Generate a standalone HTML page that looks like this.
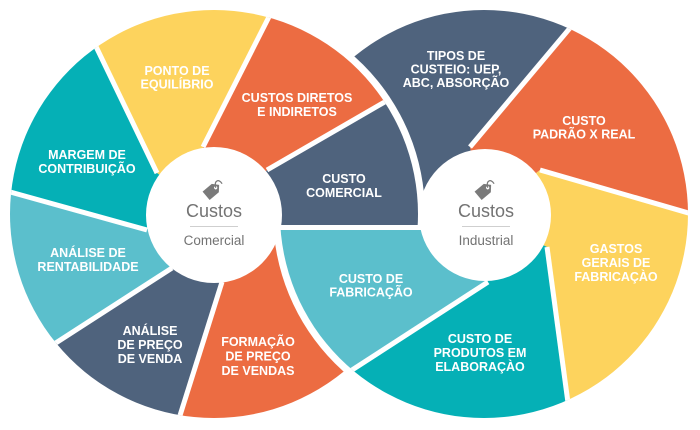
<!DOCTYPE html>
<html>
<head>
<meta charset="utf-8">
<style>
  html,body{margin:0;padding:0;background:#ffffff;width:700px;height:430px;overflow:hidden;}
  svg{display:block;overflow:hidden;}
  .lbl{font-family:"Liberation Sans",Arial,sans-serif;font-weight:bold;font-size:12.5px;fill:#ffffff;text-anchor:middle;}
  .ct{font-family:"Liberation Sans",Arial,sans-serif;fill:#737373;text-anchor:middle;}
</style>
</head>
<body>
<svg width="700" height="430" viewBox="0 0 700 430" xmlns="http://www.w3.org/2000/svg">
  <defs>
    <clipPath id="clipL"><circle cx="214" cy="214" r="204"/></clipPath>
    <clipPath id="clipR"><circle cx="484" cy="214" r="204"/></clipPath>
    <clipPath id="clipTop"><rect x="0" y="0" width="700" height="227.5"/></clipPath>
  </defs>

  <!-- ===== STEP 1: LEFT CIRCLE FULL ===== -->
  <g>
    <g clip-path="url(#clipL)">
      <polygon fill="#4f637d" points="214,214 214,227.5 700,227.5 700,0 561,0 267,170"/>
      <polygon fill="#ec6c42" points="214,214 267,170 561,0 277,0 203,147"/>
      <polygon fill="#fdd35d" points="214,214 203,147 277,0 73,0 157,173"/>
      <polygon fill="#05b0b6" points="214,214 157,173 73,0 0,0 0,189 147,230"/>
      <polygon fill="#5bbfcc" points="214,214 147,230 0,189 0,379 172,268"/>
      <polygon fill="#4f637d" points="214,214 172,268 0,379 0,430 175,430 222,282"/>
      <polygon fill="#ec6c42" points="214,214 222,282 175,430 700,430 700,227.5 214,227.5"/>
      <g stroke="#ffffff" stroke-width="5">
        <line x1="214" y1="227.5" x2="690" y2="227.5"/>
        <line x1="267" y1="170" x2="556" y2="3"/>
        <line x1="203" y1="147" x2="276" y2="3"/>
        <line x1="157" y1="173" x2="75" y2="3"/>
        <line x1="147" y1="230" x2="3" y2="190"/>
        <line x1="172" y1="268" x2="3" y2="377"/>
        <line x1="222" y1="282" x2="177" y2="425"/>
      </g>
    </g>
    <circle cx="214" cy="215" r="68" fill="#ffffff"/>
  </g>

  <!-- ===== STEP 2: RIGHT CIRCLE FULL ===== -->
  <g>
    <circle cx="484" cy="214" r="211" fill="#ffffff"/>
    <g clip-path="url(#clipR)">
      <polygon fill="#4f637d" points="484,214 484,227.5 0,227.5 0,0 593,0 470,147"/>
      <polygon fill="#ec6c42" points="484,214 470,147 593,0 700,0 700,216.5 540,170"/>
      <polygon fill="#fdd35d" points="484,214 540,170 700,216.5 700,430 572,430 547,247"/>
      <polygon fill="#05b0b6" points="484,214 547,247 572,430 259,430 488,282"/>
      <polygon fill="#5bbfcc" points="484,214 488,282 259,430 0,430 0,227.5 484,227.5"/>
      <g stroke="#ffffff" stroke-width="5">
        <line x1="484" y1="227.5" x2="10" y2="227.5"/>
        <line x1="470" y1="147" x2="591" y2="3"/>
        <line x1="540" y1="170" x2="697" y2="215.5"/>
        <line x1="547" y1="247" x2="571" y2="425"/>
        <line x1="488" y1="282" x2="267" y2="425"/>
      </g>
    </g>
    <circle cx="485" cy="215" r="66" fill="#ffffff"/>
  </g>

  <!-- ===== STEP 3: LEFT TOP REDRAW ===== -->
  <g clip-path="url(#clipTop)">
    <circle cx="214" cy="214" r="211" fill="#ffffff"/>
    <g clip-path="url(#clipL)">
      <polygon fill="#4f637d" points="214,214 214,227.5 700,227.5 700,0 561,0 267,170"/>
      <polygon fill="#ec6c42" points="214,214 267,170 561,0 277,0 203,147"/>
      <polygon fill="#fdd35d" points="214,214 203,147 277,0 73,0 157,173"/>
      <polygon fill="#05b0b6" points="214,214 157,173 73,0 0,0 0,189 147,230"/>
      <polygon fill="#5bbfcc" points="214,214 147,230 0,189 0,379 172,268"/>
      <g stroke="#ffffff" stroke-width="5">
        <line x1="214" y1="227.5" x2="690" y2="227.5"/>
        <line x1="267" y1="170" x2="556" y2="3"/>
        <line x1="203" y1="147" x2="276" y2="3"/>
        <line x1="157" y1="173" x2="75" y2="3"/>
        <line x1="147" y1="230" x2="3" y2="190"/>
      </g>
    </g>
    <circle cx="214" cy="215" r="68" fill="#ffffff"/>
  </g>
  <line x1="270" y1="227.5" x2="430" y2="227.5" stroke="#ffffff" stroke-width="5"/>

  <!-- ===== CENTER TEXTS & ICONS ===== -->
  <g transform="translate(213,190) rotate(-40)">
    <path d="M-9,-5.5 H3 L8,0 L3,5.5 H-9 Z" fill="#7a7a7a"/>
    <circle cx="3.5" cy="0" r="1.6" fill="#ffffff"/>
    <path d="M3.5,0 C7,-7 12,-5 11,1" stroke="#7a7a7a" stroke-width="1.3" fill="none"/>
  </g>
  <text class="ct" x="214" y="217" font-size="18">Custos</text>
  <line x1="190" y1="226.5" x2="238" y2="226.5" stroke="#cfcfcf" stroke-width="1"/>
  <text class="ct" x="214" y="245" font-size="13.5">Comercial</text>

  <g transform="translate(485,190) rotate(-40)">
    <path d="M-9,-5.5 H3 L8,0 L3,5.5 H-9 Z" fill="#7a7a7a"/>
    <circle cx="3.5" cy="0" r="1.6" fill="#ffffff"/>
    <path d="M3.5,0 C7,-7 12,-5 11,1" stroke="#7a7a7a" stroke-width="1.3" fill="none"/>
  </g>
  <text class="ct" x="486" y="217" font-size="18">Custos</text>
  <line x1="462" y1="226.5" x2="510" y2="226.5" stroke="#cfcfcf" stroke-width="1"/>
  <text class="ct" x="486" y="245" font-size="13.5">Industrial</text>

  <!-- ===== LEFT LABELS ===== -->
  <text class="lbl" x="177" y="75">PONTO DE</text>
  <text class="lbl" x="177" y="88.5">EQUILÍBRIO</text>

  <text class="lbl" x="297" y="102">CUSTOS DIRETOS</text>
  <text class="lbl" x="297" y="116">E INDIRETOS</text>

  <text class="lbl" x="87" y="159">MARGEM DE</text>
  <text class="lbl" x="87" y="173">CONTRIBUIÇÃO</text>

  <text class="lbl" x="344" y="183">CUSTO</text>
  <text class="lbl" x="344" y="197">COMERCIAL</text>

  <text class="lbl" x="88" y="257">ANÁLISE DE</text>
  <text class="lbl" x="88" y="271">RENTABILIDADE</text>

  <text class="lbl" x="150" y="335">ANÁLISE</text>
  <text class="lbl" x="150" y="349">DE PREÇO</text>
  <text class="lbl" x="150" y="363">DE VENDA</text>

  <text class="lbl" x="258" y="346">FORMAÇÃO</text>
  <text class="lbl" x="258" y="360.5">DE PREÇO</text>
  <text class="lbl" x="258" y="375">DE VENDAS</text>

  <!-- ===== RIGHT LABELS ===== -->
  <text class="lbl" x="456" y="60">TIPOS DE</text>
  <text class="lbl" x="456" y="73.5">CUSTEIO: UEP,</text>
  <text class="lbl" x="456" y="87">ABC, ABSORÇÃO</text>

  <text class="lbl" x="584" y="125">CUSTO</text>
  <text class="lbl" x="584" y="138.5">PADRÃO X REAL</text>

  <text class="lbl" x="616" y="253">GASTOS</text>
  <text class="lbl" x="616" y="267">GERAIS DE</text>
  <text class="lbl" x="616" y="281">FABRICAÇÀO</text>

  <text class="lbl" x="480" y="343">CUSTO DE</text>
  <text class="lbl" x="480" y="357">PRODUTOS EM</text>
  <text class="lbl" x="480" y="371">ELABORAÇÀO</text>

  <text class="lbl" x="371" y="283">CUSTO DE</text>
  <text class="lbl" x="371" y="296.5">FABRICAÇÃO</text>
</svg>
</body>
</html>
